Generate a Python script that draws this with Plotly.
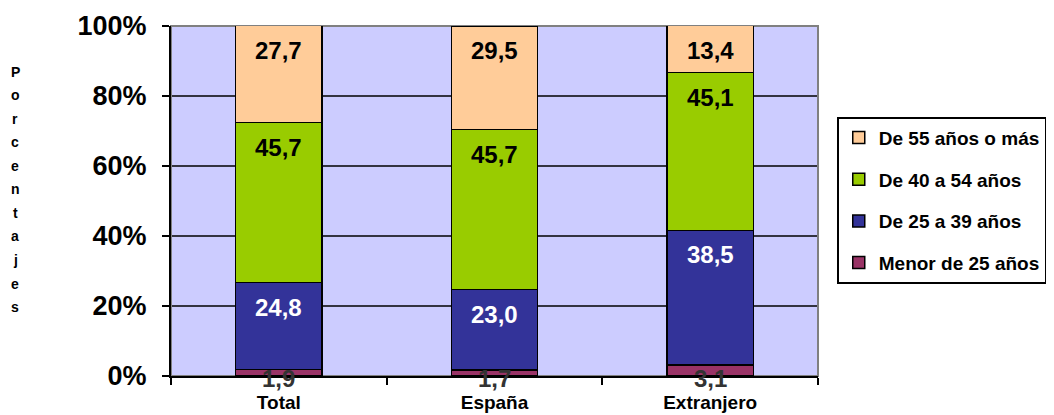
import plotly.graph_objects as go

categories = ["Total", "España", "Extranjero"]
series_names = ["Menor de 25 años", "De 25 a 39 años", "De 40 a 54 años", "De 55 años o más"]
menor25 = [1.9, 1.7, 3.1]
de25a39 = [24.8, 23.0, 38.5]
de40a54 = [45.7, 45.7, 45.1]
de55mas = [27.7, 29.5, 13.4]
tick_vals = [0, 20, 40, 60, 80, 100]
tick_text = ["0%", "20%", "40%", "60%", "80%", "100%"]
axis_title = "Porcentajes"

series = [menor25, de25a39, de40a54, de55mas]
colors = ["#993366", "#333399", "#99CC00", "#FFCC99"]
text_colors = ["#333333", "#FFFFFF", "#000000", "#000000"]
FONT = "Liberation Sans, Arial"

fig = go.Figure()
for i, (name, vals) in enumerate(zip(series_names, series)):
    fig.add_trace(go.Bar(
        x=categories, y=vals, name=f"<b>{name}</b>",
        marker=dict(color=colors[i], line=dict(color="#000000", width=1.5)),
        legendgroup=name, legendrank=len(series) - i,
    ))

annotations = []
cum = [0.0] * len(categories)
for i, vals in enumerate(series):
    for j, v in enumerate(vals):
        top = cum[j] + v
        if i == 0:
            ypos, yshift = 0.0, -2
        else:
            ypos, yshift = top - 7.0, 0
        annotations.append(dict(
            x=categories[j], y=ypos, xref="x", yref="y", yshift=yshift,
            text=f"<b>{v:.1f}</b>".replace(".", ","), showarrow=False,
            font=dict(family=FONT, size=24, color=text_colors[i]),
            yanchor="middle", xanchor="center",
        ))
        cum[j] = top

letters = list(axis_title)
n = len(letters)
for k, ch in enumerate(letters):
    annotations.append(dict(
        x=-0.241, y=0.869 - k * (0.869 - 0.197) / (n - 1), xref="paper", yref="paper",
        text=f"<b>{ch}</b>", showarrow=False,
        font=dict(family=FONT, size=14, color="#000000"),
        xanchor="center", yanchor="middle",
    ))

shapes = [dict(type="line", xref="paper", yref="y", x0=0, x1=1, y0=v, y1=v,
               line=dict(color="#000000", width=1.5), layer="below")
          for v in tick_vals[1:-1]]
shapes.append(dict(type="rect", xref="paper", yref="paper", x0=0, x1=1, y0=0, y1=1,
                   line=dict(color="#808080", width=2), layer="below"))

fig.update_layout(
    width=1046, height=407,
    margin=dict(l=163, r=236, t=18, b=39, autoexpand=False),
    barmode="stack", bargap=0.6,
    paper_bgcolor="#FFFFFF", plot_bgcolor="#CCCCFF",
    font=dict(family=FONT, color="#000000"),
    annotations=annotations,
    shapes=shapes,
    showlegend=True,
    legend=dict(
        x=1.029, y=0.741, xanchor="left", yanchor="top",
        traceorder="grouped", tracegroupgap=14,
        bordercolor="#000000", borderwidth=2, bgcolor="#FFFFFF",
        font=dict(family=FONT, size=19, color="#000000"),
        itemwidth=30,
    ),
)
fig.update_xaxes(
    showline=True, linecolor="#000000", linewidth=2,
    ticks="outside", ticklen=7, tickwidth=2, tickcolor="#000000",
    tickson="boundaries", automargin=False, ticklabelstandoff=8,
    tickfont=dict(family=FONT, size=19, color="#000000"),
    tickvals=categories, ticktext=[f"<b>{c}</b>" for c in categories],
    showgrid=False,
)
fig.update_yaxes(
    range=[0, 100], tickvals=tick_vals, ticktext=[f"<b>{t}</b>" for t in tick_text],
    showline=True, linecolor="#000000", linewidth=2, automargin=False,
    ticks="outside", ticklen=7, tickwidth=2, tickcolor="#000000",
    ticklabelstandoff=10,
    tickfont=dict(family=FONT, size=27, color="#000000"),
    showgrid=False, zeroline=False,
)

fig.write_html("out.html")
